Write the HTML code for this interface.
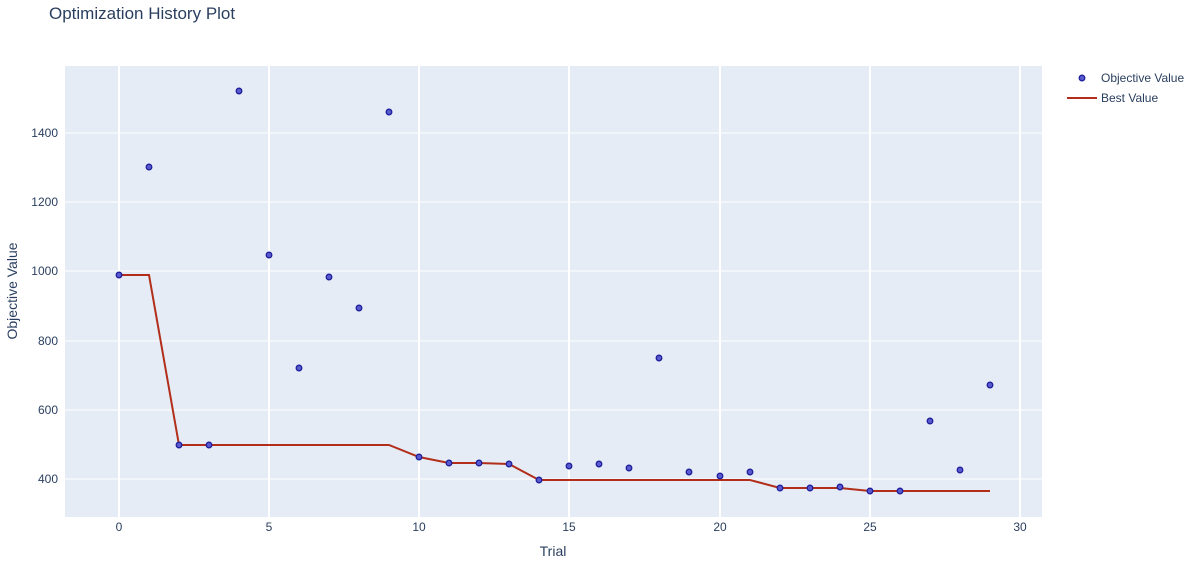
<!DOCTYPE html>
<html><head><meta charset="utf-8"><style>body{margin:0;background:#fff}svg{display:block;font-family:"Liberation Sans",sans-serif}</style></head><body>
<svg width="1200" height="571" xmlns="http://www.w3.org/2000/svg">
<text x="49" y="19" font-size="17" fill="#2a3f5f">Optimization History Plot</text>
<rect x="65" y="66" width="977" height="451" fill="#e5ecf6"/>
<g stroke="#fff" stroke-width="1">
<line x1="65" x2="1042" y1="479" y2="479"/><line x1="65" x2="1042" y1="410" y2="410"/><line x1="65" x2="1042" y1="341" y2="341"/><line x1="65" x2="1042" y1="271" y2="271"/><line x1="65" x2="1042" y1="202" y2="202"/><line x1="65" x2="1042" y1="133" y2="133"/>
</g>
<g stroke="#fff" stroke-width="2">
<line x1="119" x2="119" y1="66" y2="517"/><line x1="269" x2="269" y1="66" y2="517"/><line x1="419" x2="419" y1="66" y2="517"/><line x1="569" x2="569" y1="66" y2="517"/><line x1="720" x2="720" y1="66" y2="517"/><line x1="870" x2="870" y1="66" y2="517"/><line x1="1020" x2="1020" y1="66" y2="517"/>
</g>
<g font-size="12" fill="#2a3f5f" text-anchor="end">
<text x="58" y="483">400</text><text x="58" y="414">600</text><text x="58" y="345">800</text><text x="58" y="275">1000</text><text x="58" y="206">1200</text><text x="58" y="137">1400</text>
</g>
<g font-size="12" fill="#2a3f5f" text-anchor="middle">
<text x="119" y="531">0</text><text x="269" y="531">5</text><text x="419" y="531">10</text><text x="569" y="531">15</text><text x="720" y="531">20</text><text x="870" y="531">25</text><text x="1020" y="531">30</text>
</g>
<text x="553" y="556" font-size="14" fill="#2a3f5f" text-anchor="middle">Trial</text>
<text transform="translate(17,291) rotate(-90)" font-size="14" fill="#2a3f5f" text-anchor="middle">Objective Value</text>
<polyline fill="none" stroke="#b22e1a" stroke-width="2" points="119,275 149,275 179,445 209,445 239,445 269,445 299,445 329,445 359,445 389,445 419,457 449,463 479,463 509,464 539,480 569,480 599,480 629,480 659,480 689,480 720,480 750,480 780,488 810,488 840,488 870,491 900,491 930,491 960,491 990,491"/>
<g fill="#5a5ad0" stroke="#1f1f9a" stroke-width="1.3">
<circle cx="119" cy="275" r="2.8"/><circle cx="149" cy="167" r="2.8"/><circle cx="179" cy="445" r="2.8"/><circle cx="209" cy="445" r="2.8"/><circle cx="239" cy="91" r="2.8"/><circle cx="269" cy="255" r="2.8"/><circle cx="299" cy="368" r="2.8"/><circle cx="329" cy="277" r="2.8"/><circle cx="359" cy="308" r="2.8"/><circle cx="389" cy="112" r="2.8"/><circle cx="419" cy="457" r="2.8"/><circle cx="449" cy="463" r="2.8"/><circle cx="479" cy="463" r="2.8"/><circle cx="509" cy="464" r="2.8"/><circle cx="539" cy="480" r="2.8"/><circle cx="569" cy="466" r="2.8"/><circle cx="599" cy="464" r="2.8"/><circle cx="629" cy="468" r="2.8"/><circle cx="659" cy="358" r="2.8"/><circle cx="689" cy="472" r="2.8"/><circle cx="720" cy="476" r="2.8"/><circle cx="750" cy="472" r="2.8"/><circle cx="780" cy="488" r="2.8"/><circle cx="810" cy="488" r="2.8"/><circle cx="840" cy="487" r="2.8"/><circle cx="870" cy="491" r="2.8"/><circle cx="900" cy="491" r="2.8"/><circle cx="930" cy="421" r="2.8"/><circle cx="960" cy="470" r="2.8"/><circle cx="990" cy="385" r="2.8"/>
<circle cx="1082" cy="78" r="2.8"/>
</g>
<line x1="1067" x2="1097" y1="98" y2="98" stroke="#b22e1a" stroke-width="2"/>
<text x="1101" y="82" font-size="12" fill="#2a3f5f">Objective Value</text>
<text x="1101" y="102" font-size="12" fill="#2a3f5f">Best Value</text>
</svg>
</body></html>
